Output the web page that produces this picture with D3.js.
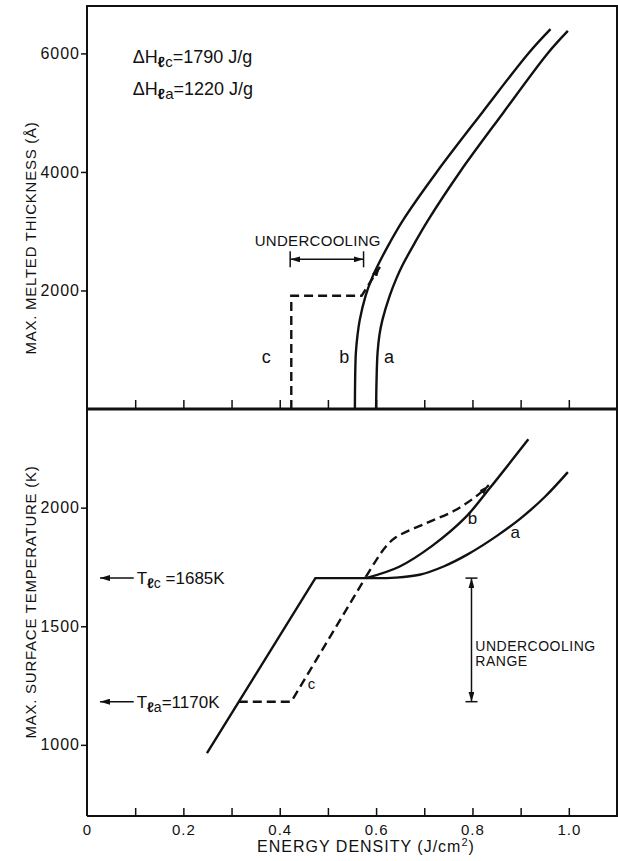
<!DOCTYPE html>
<html>
<head>
<meta charset="utf-8">
<script src="https://cdn.jsdelivr.net/npm/d3@7"></script>
<style>
body { margin: 0; background: #fff; }
svg { display: block; }
text { font-family: "Liberation Sans", Arial, sans-serif; fill: #111; }
</style>
</head>
<body>
<svg width="618" height="861"></svg>
<script>

// axis ticks
var energyTicks = [0, 0.2, 0.4, 0.6, 0.8, 1.0];
var energyMinor = [0.1, 0.2, 0.3, 0.4, 0.5, 0.6, 0.7, 0.8, 0.9, 1.0];
var thickTicks = [2000, 4000, 6000];
var tempTicks = [1000, 1500, 2000];

// top panel: max melted thickness (A) vs energy density
var thickA = [[0.600, 0], [0.601, 500], [0.603, 945], [0.607, 1250], [0.613, 1500], [0.628, 1906], [0.642, 2200],
	[0.655, 2429], [0.680, 2800], [0.708, 3188], [0.774, 4000], [0.864, 5000], [0.956, 6000], [0.998, 6380]];
var thickB = [[0.556, 0], [0.5565, 500], [0.558, 945], [0.5615, 1250], [0.566, 1500], [0.578, 1906], [0.591, 2200],
	[0.604, 2429], [0.628, 2800], [0.656, 3188], [0.726, 4000], [0.820, 5000], [0.916, 6000], [0.962, 6410]];
var thickC = [[0.424, 0], [0.424, 1910], [0.570, 1910], [0.608, 2400]];

// bottom panel: max surface temperature (K) vs energy density
var tempRise = [[0.249, 965], [0.474, 1703], [0.579, 1703]];
var tempA = [[0.579, 1703], [0.640, 1705], [0.690, 1717], [0.740, 1752], [0.790, 1803], [0.850, 1880], [0.900, 1955], [0.950, 2045], [0.998, 2150]];
var tempB = [[0.579, 1703], [0.648, 1751], [0.717, 1840], [0.786, 1960], [0.837, 2085], [0.916, 2288]];
var tempCFlat = [[0.315, 1182], [0.424, 1182], [0.579, 1709]];
var tempC = [[0.579, 1709], [0.600, 1778], [0.620, 1835], [0.641, 1875], [0.703, 1934], [0.765, 1990], [0.814, 2058], [0.834, 2095]];

var meltC = 1703, meltA = 1182;   // where the arrows sit in the plot

var svg = d3.select("svg");

var x = d3.scaleLinear().domain([0, 1.1]).range([87, 617]);
var yTop = d3.scaleLinear().domain([0, 6800]).range([409, 6]);
var yBot = d3.scaleLinear().domain([700, 2416]).range([816, 409]);

var defs = svg.append("defs");
defs.append("marker")
	.attr("id", "head")
	.attr("viewBox", "0 0 10 6")
	.attr("refX", 10).attr("refY", 3)
	.attr("markerWidth", 10).attr("markerHeight", 6)
	.attr("markerUnits", "userSpaceOnUse")
	.attr("orient", "auto-start-reverse")
	.append("path").attr("d", "M0,0L10,3L0,6Z").attr("fill", "#111");

// frame
var frame = svg.append("g").attr("stroke", "#111").attr("fill", "none");
frame.append("path").attr("d", "M87,816V6H617V816H87").attr("stroke-width", 2);
frame.append("line").attr("x1", 87).attr("x2", 617).attr("y1", 409).attr("y2", 409).attr("stroke-width", 3);

// x ticks, shared axis (top panel)
var axTop = svg.append("g").attr("transform", "translate(0,409)")
	.call(d3.axisBottom(x).tickValues(energyMinor).tickSizeInner(-9).tickSizeOuter(0).tickFormat(""));
axTop.select(".domain").remove();

// x ticks + labels bottom
var axBot = svg.append("g").attr("transform", "translate(0,816)")
	.call(d3.axisBottom(x).tickValues(energyMinor).tickSizeInner(-8).tickSizeOuter(0).tickFormat(""));
axBot.select(".domain").remove();

var axLab = svg.append("g").attr("transform", "translate(0,816)")
	.call(d3.axisBottom(x).tickValues(energyTicks).tickSize(0).tickPadding(8)
		.tickFormat(function(d) { return d == 0 ? "0" : d3.format(".1f")(d); }));
axLab.select(".domain").remove();
axLab.selectAll("text").style("font-size", "15px").style("letter-spacing", "1px").attr("fill", "#111");

svg.selectAll(".tick line").attr("stroke", "#111").attr("stroke-width", 1.5);

// y axes
var yAx1 = svg.append("g").attr("transform", "translate(87,0)")
	.call(d3.axisLeft(yTop).tickValues(thickTicks).tickSize(6).tickPadding(1).tickFormat(d3.format("d")));
var yAx2 = svg.append("g").attr("transform", "translate(87,0)")
	.call(d3.axisLeft(yBot).tickValues(tempTicks).tickSize(6).tickPadding(1).tickFormat(d3.format("d")));
[yAx1, yAx2].forEach(function(a) {
	a.select(".domain").remove();
	a.selectAll("line").attr("stroke", "#111").attr("stroke-width", 1.5);
	a.selectAll("text").style("font-size", "16px").style("letter-spacing", "1px").attr("fill", "#111");
});

// axis titles
svg.append("text")
	.attr("transform", "translate(30,238) rotate(-90)")
	.attr("text-anchor", "middle").attr("dominant-baseline", "central")
	.style("font-size", "15px").style("letter-spacing", "0.75px")
	.text("MAX. MELTED THICKNESS (Å)");

svg.append("text")
	.attr("transform", "translate(30,602) rotate(-90)")
	.attr("text-anchor", "middle").attr("dominant-baseline", "central")
	.style("font-size", "15px").style("letter-spacing", "0.75px")
	.text("MAX. SURFACE TEMPERATURE (K)");

var xt = svg.append("text").attr("x", 366).attr("y", 852).attr("text-anchor", "middle")
	.style("font-size", "16px").style("letter-spacing", "1px");
xt.append("tspan").text("ENERGY DENSITY (J/cm");
xt.append("tspan").attr("dy", -6).style("font-size", "11px").text("2");
xt.append("tspan").attr("dy", 6).text(")");

// curves
var lineTop = d3.line().x(function(d) { return x(d[0]); }).y(function(d) { return yTop(d[1]); });
var lineTopSmooth = d3.line().x(function(d) { return x(d[0]); }).y(function(d) { return yTop(d[1]); }).curve(d3.curveCatmullRom.alpha(0.5));
var lineBot = d3.line().x(function(d) { return x(d[0]); }).y(function(d) { return yBot(d[1]); });
var lineBotSmooth = d3.line().x(function(d) { return x(d[0]); }).y(function(d) { return yBot(d[1]); }).curve(d3.curveCatmullRom.alpha(0.5));

var curves = svg.append("g").attr("fill", "none").attr("stroke", "#111").attr("stroke-width", 2.4);

curves.append("path").attr("d", lineTopSmooth(thickA));
curves.append("path").attr("d", lineTopSmooth(thickB));
curves.append("path").attr("d", lineTop(thickC)).attr("stroke-dasharray", "9,5").attr("marker-end", "url(#head)");

curves.append("path").attr("d", lineBot(tempRise)).attr("stroke-linejoin", "miter");
curves.append("path").attr("d", lineBotSmooth(tempA));
curves.append("path").attr("d", lineBotSmooth(tempB));
curves.append("path").attr("d", lineBot(tempCFlat)).attr("stroke-dasharray", "9,5");
curves.append("path").attr("d", lineBotSmooth(tempC)).attr("stroke-dasharray", "9,5").attr("marker-end", "url(#head)");

// curve labels
function label(txt, px, py, size) {
	svg.append("text").attr("x", px).attr("y", py).attr("text-anchor", "middle")
		.style("font-size", size + "px").text(txt);
}
label("c", x(0.372), yTop(776), 18);
label("b", x(0.534), yTop(776), 18);
label("a", x(0.627), yTop(776), 18);
label("b", x(0.800), yBot(1931), 17);
label("a", x(0.889), yBot(1873), 17);
label("c", x(0.466), yBot(1236), 15);

// enthalpy notes
function subText(px, py, main, sub, rest, size) {
	var t = svg.append("text").attr("x", px).attr("y", py).style("font-size", size + "px");
	t.append("tspan").text(main);
	t.append("tspan").attr("dy", 4).style("font-size", (size - 3) + "px").style("font-weight", "bold").text(sub[0]);
	t.append("tspan").style("font-size", (size - 3) + "px").text(sub.slice(1));
	t.append("tspan").attr("dy", -4).text(rest);
	return t;
}
subText(x(0.095), yTop(5837), "ΔH", "ℓc", "=1790 J/g", 18);
subText(x(0.095), yTop(5298), "ΔH", "ℓa", "=1220 J/g", 18);

// undercooling span, top panel
var ucY = yTop(2525), ucL = x(0.4217), ucR = x(0.574);
var ann = svg.append("g").attr("stroke", "#111").attr("stroke-width", 1.5);
ann.append("line").attr("x1", ucL).attr("x2", ucR).attr("y1", ucY).attr("y2", ucY)
	.attr("marker-start", "url(#head)").attr("marker-end", "url(#head)");
ann.append("line").attr("x1", ucL).attr("x2", ucL).attr("y1", ucY - 8).attr("y2", ucY + 8);
ann.append("line").attr("x1", ucR).attr("x2", ucR).attr("y1", ucY - 8).attr("y2", ucY + 8);
svg.append("text").attr("x", x(0.479)).attr("y", yTop(2750)).attr("text-anchor", "middle")
	.style("font-size", "15px").style("letter-spacing", "0.3px").text("UNDERCOOLING");

// undercooling range, bottom panel
var urX = x(0.798), urT = yBot(meltC), urB = yBot(meltA);
ann.append("line").attr("x1", urX).attr("x2", urX).attr("y1", urT).attr("y2", urB)
	.attr("marker-start", "url(#head)").attr("marker-end", "url(#head)");
ann.append("line").attr("x1", urX - 6).attr("x2", urX + 6).attr("y1", urT).attr("y2", urT);
ann.append("line").attr("x1", urX - 6).attr("x2", urX + 6).attr("y1", urB).attr("y2", urB);
svg.append("text").attr("x", x(0.806)).attr("y", yBot(1397)).style("font-size", "14px").style("letter-spacing", "0.5px").text("UNDERCOOLING");
svg.append("text").attr("x", x(0.806)).attr("y", yBot(1333)).style("font-size", "14px").style("letter-spacing", "0.5px").text("RANGE");

// melting point arrows
[[meltC, "ℓc", " =1685K"], [meltA, "ℓa", "=1170K"]].forEach(function(m) {
	ann.append("line").attr("x1", x(0.097)).attr("x2", x(0.027)).attr("y1", yBot(m[0])).attr("y2", yBot(m[0]))
		.attr("marker-end", "url(#head)");
	subText(x(0.103), yBot(m[0]) + 6, "T", m[1], m[2], 17);
});

</script>
</body>
</html>
